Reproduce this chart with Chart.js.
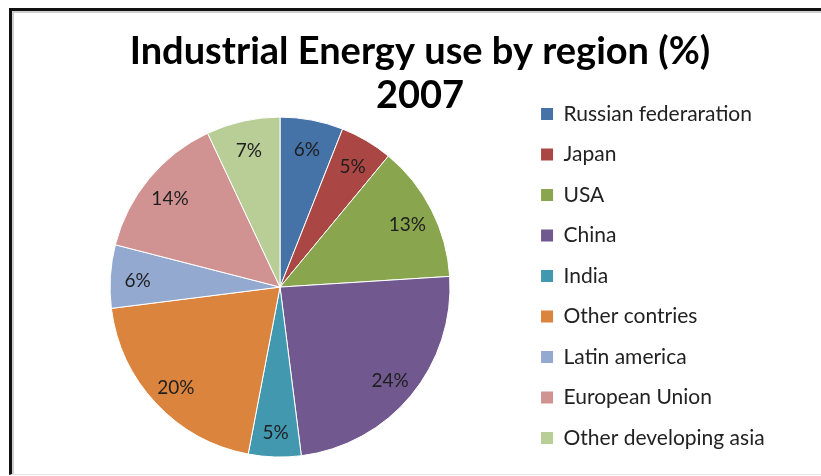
<!DOCTYPE html>
<html>
<head>
<meta charset="utf-8">
<script src="https://cdn.jsdelivr.net/npm/chart.js@4.4.0/dist/chart.umd.min.js"></script>
<style>
  html,body{margin:0;padding:0;background:#fff;overflow:hidden;}
  #frame{position:absolute;left:9px;top:8px;width:830px;height:463px;
    border-left:3px solid #111;border-top:3px solid #111;border-bottom:1px solid #e4e4e4;
    box-shadow:inset 2px 2px 0 #cfcfcf;}
  #chart{position:absolute;left:0;top:0;}
</style>
</head>
<body>
<div id="frame"><canvas id="chart" width="816" height="463"></canvas></div>
<script>
// Data
const regions=['Russian federaration','Japan','USA','China','India','Other contries','Latin america','European Union','Other developing asia'];
const shares=[6,5,13,24,5,20,6,14,7];
const sliceColors=['#4572A7','#AA4643','#89A54E','#71588F','#4198AF','#DB843D','#93A9CF','#D19392','#B9CD96'];
const titleLines=['Industrial Energy use by region (%)','2007'];

const FONT='Lato, "Open Sans", sans-serif';

// percentage labels inside each slice
const sliceLabels={
  id:'sliceLabels',
  afterDatasetsDraw(chart){
    const ctx=chart.ctx;
    const meta=chart.getDatasetMeta(0);
    ctx.save();
    ctx.font='19px '+FONT;
    ctx.fillStyle='#1e1e1e';
    ctx.textAlign='center';
    ctx.textBaseline='middle';
    meta.data.forEach((arc,i)=>{
      const a=(arc.startAngle+arc.endAngle)/2;
      const r=arc.outerRadius*0.84;
      ctx.fillText(shares[i]+'%',arc.x+Math.cos(a)*r,arc.y+Math.sin(a)*r+3);
    });
    ctx.restore();
  }
};

new Chart(document.getElementById('chart'),{
  type:'pie',
  data:{labels:regions,datasets:[{data:shares,backgroundColor:sliceColors,borderColor:'#fff',borderWidth:1,radius:170}]},
  options:{
    responsive:false,
    animation:false,
    layout:{padding:{left:26.5,right:26.5,top:0,bottom:6}},
    plugins:{
      tooltip:{enabled:false},
      title:{display:true,text:titleLines,color:'#000',
        font:{family:FONT,size:38,weight:'bold',lineHeight:1.16},
        padding:{top:19,bottom:-12}},
      legend:{position:'right',align:'end',
        labels:{color:'#222',font:{family:FONT,size:21},boxWidth:12,boxHeight:12,padding:19.5,
          generateLabels(chart){
            const items=Chart.overrides.pie.plugins.legend.labels.generateLabels(chart);
            // widen the legend column so the title stays centred over the frame
            items.forEach(it=>{it.text=it.text+'\u00a0'.repeat(5);it.lineWidth=0;});
            return items;
          }}}
    }
  },
  plugins:[sliceLabels]
});
</script>
</body>
</html>
